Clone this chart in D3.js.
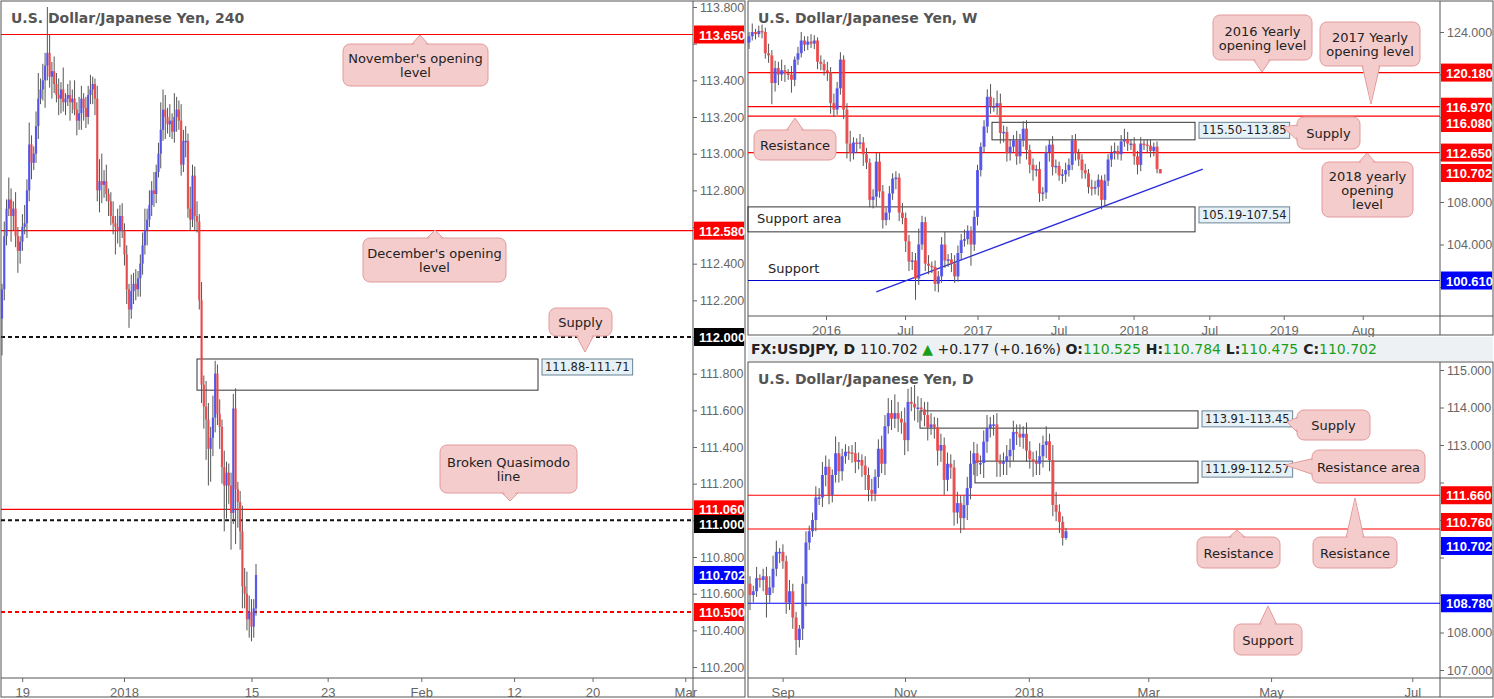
<!DOCTYPE html>
<html><head><meta charset="utf-8">
<script src="https://cdn.jsdelivr.net/npm/d3@7"></script>
<style>
body{margin:0;background:#fff;}
text{font-family:"DejaVu Sans",sans-serif;}
</style></head>
<body><svg id="c" width="1494" height="699"></svg>
<script>
// ---- 4H data ----
const h4Close = [112.26,112.55,112.70,112.75,112.66,112.70,112.55,112.47,112.52,112.60,112.62,112.80,113.05,112.95,113.00,113.15,113.30,113.35,113.40,113.48,113.55,113.42,113.45,113.38,113.32,113.30,113.35,113.28,113.30,113.32,113.28,113.30,113.24,113.18,113.22,113.30,113.25,113.20,113.32,113.35,113.38,113.30,112.80,112.85,112.83,112.85,112.78,112.74,112.66,112.62,112.60,112.58,112.66,112.58,112.45,112.26,112.15,112.25,112.29,112.26,112.32,112.40,112.50,112.58,112.64,112.72,112.80,112.78,112.90,113.00,113.13,113.24,113.20,113.16,113.18,113.12,113.20,113.24,113.18,112.94,113.07,113.07,112.70,112.64,112.88,112.66,112.63,112.20,111.74,111.62,111.55,111.39,111.45,111.56,111.80,111.58,111.51,111.29,111.19,111.26,111.19,111.04,111.61,111.17,111.10,110.94,110.64,110.60,110.46,110.50,110.42,110.52,110.702];
const h4WickUp = [3,8,5,12,6,4,9,5,3,7,10,6,12,5,4,8,14,6,9,7,25,10,5,8,6,9,4,12,3,6,8,5,10,4,9,7,3,6,5,8,4,3,7,12,15,6,9,3,5,8,4,10,6,7,4,5,3,9,6,8,4,5,7,12,6,8,5,10,4,6,15,11,8,5,9,4,13,7,5,9,6,8,4,12,6,5,8,4,10,5,14,9,6,12,7,5,8,4,9,6,5,7,8,11,4,6,14,10,12,9,7,5,6];
const h4WickDn = [20,6,5,4,14,8,6,12,7,5,4,8,6,9,4,5,7,3,6,15,8,6,12,5,4,9,8,5,7,4,10,6,3,8,5,9,7,6,4,5,8,9,6,12,10,7,4,8,5,6,15,7,9,4,6,8,10,5,7,6,4,10,6,5,8,4,6,7,5,3,8,6,12,5,7,4,6,8,5,6,4,9,5,6,4,8,6,5,10,12,22,20,18,10,8,6,12,9,25,18,10,20,6,30,14,10,12,8,6,10,8,6,4];
const h4Ticks = [[8.9,"19"],[53.8,"2018"],[110,"15"],[143.6,"23"],[184.9,"Feb"],[225.8,"12"],[260.4,"20"],[301.3,"Mar"]];

// ---- weekly data ----
const wkClose = [123.6,124.0,123.8,124.1,124.0,122.0,121.8,119.2,120.6,120.0,120.4,120.1,120.0,119.5,121.4,122.0,123.2,122.8,123.1,122.9,123.2,121.2,121.0,120.4,120.2,117.3,116.7,118.7,121.4,116.7,113.5,112.6,113.6,113.5,113.6,112.5,111.7,108.2,108.5,111.8,109.0,106.3,107.0,108.8,110.2,110.3,107.0,106.5,104.3,102.4,102.5,100.8,104.0,106.1,102.2,102.0,101.9,100.3,101.0,104.0,102.5,102.6,102.2,101.0,103.2,104.4,104.5,105.3,104.0,106.6,111.0,113.2,115.1,117.9,117.0,117.0,117.3,114.5,114.6,112.6,113.2,113.8,112.3,113.8,114.9,112.9,111.5,111.0,111.1,108.8,108.9,112.7,113.4,111.3,111.4,110.5,110.6,111.0,111.5,113.8,112.6,112.0,111.0,110.7,109.4,109.3,109.4,110.1,108.2,110.0,112.0,112.6,112.8,112.5,113.7,113.9,113.5,113.5,112.3,111.5,113.5,113.4,113.3,112.8,113.2,111.1,110.7];
const wkWickUp = [0.4,0.8,0.3,0.5,0.6,0.4,0.9,0.5,0.7,0.6,1.0,0.5,0.4,0.8,0.3,0.6,0.8,0.4,0.5,0.7,0.5,0.3,0.6,0.4,0.8,0.5,0.9,0.6,0.7,0.4,0.6,1.2,0.5,0.4,0.8,0.5,0.6,0.4,0.7,0.8,0.9,0.6,0.5,0.7,0.5,0.6,0.4,0.9,0.5,0.6,0.8,0.7,1.5,0.6,0.5,0.8,0.4,0.6,0.5,0.7,1.2,0.5,0.6,0.8,0.7,0.6,0.9,0.5,0.4,0.6,0.5,0.4,0.6,0.7,1.2,0.8,1.2,0.9,0.6,0.5,0.7,0.5,0.9,0.6,0.7,0.8,0.5,0.6,0.4,0.7,0.5,0.6,0.5,0.8,0.6,0.4,0.5,0.7,0.6,0.5,0.6,0.4,0.5,0.6,0.4,0.7,0.6,0.5,0.4,0.6,0.5,0.7,0.8,0.5,0.6,1.0,0.7,0.4,0.6,0.5,0.6,0.4,0.5,0.6,0.4,0.5];
const wkWickDn = [0.6,0.4,0.5,0.3,0.6,0.5,0.7,2.0,0.8,1.0,0.6,0.8,0.5,1.2,0.6,0.5,0.4,0.6,0.5,0.4,0.5,0.7,0.6,0.5,0.8,1.0,0.7,0.5,0.6,0.9,1.4,0.8,0.6,0.9,0.5,1.1,0.6,0.7,0.8,0.9,0.6,0.8,0.5,0.7,0.6,1.0,0.8,0.6,1.0,0.9,0.8,2.0,0.6,0.5,0.7,0.8,0.6,0.7,0.8,0.6,0.7,0.6,0.8,0.6,0.5,0.7,0.6,0.5,2.0,0.6,0.8,0.6,0.5,0.6,0.7,0.5,0.8,1.0,0.9,0.8,0.7,0.6,0.8,0.7,0.6,0.9,0.8,1.0,0.6,0.8,0.7,0.6,0.9,0.8,0.6,0.5,0.8,0.7,0.6,0.5,0.7,0.6,0.8,0.5,0.6,0.7,0.6,0.8,0.9,0.6,0.5,0.7,0.6,0.5,0.6,0.5,0.7,0.6,0.8,0.9,0.6,0.5,0.7,0.6,0.5,0.4];
const wkTicks = [[23.6,"2016"],[47.8,"Jul"],[70,"2017"],[94.8,"Jul"],[117.8,"2018"],[141,"Jul"],[163.8,"2019"],[188,"Aug"]];

// ---- daily data ----
const dyClose = [109.0,109.1,109.45,109.4,109.5,109.0,109.2,109.7,110.15,110.15,109.9,108.8,109.1,108.4,107.8,108.1,109.3,110.4,110.7,111.0,111.6,111.6,112.2,112.42,111.67,112.2,112.78,112.3,112.7,112.82,112.8,112.78,112.55,112.6,112.45,112.2,111.8,111.7,112.15,112.9,112.5,113.5,113.85,113.7,113.85,113.7,113.6,113.13,114.15,114.1,114.0,114.0,113.95,113.8,113.47,113.55,113.47,112.85,113.0,112.07,112.5,112.4,111.2,111.45,111.05,111.4,111.85,112.5,112.78,112.52,112.52,113.09,113.45,113.55,113.55,112.55,112.5,112.55,112.7,112.87,113.35,113.3,113.2,113.3,112.85,112.62,112.55,112.5,112.7,113.0,113.1,112.6,111.4,111.22,110.95,110.52,110.70];
const dyWickUp = [0.2,0.15,0.3,0.1,0.2,0.25,0.3,0.35,0.3,0.1,0.2,0.15,0.3,0.2,0.15,0.1,0.2,0.3,0.15,0.2,0.3,0.25,0.35,0.3,0.2,0.15,0.45,0.3,0.2,0.2,0.15,0.2,0.3,0.2,0.15,0.25,0.2,0.3,0.2,0.25,0.35,0.3,0.4,0.35,0.5,0.3,0.2,0.4,0.35,0.4,0.5,0.3,0.25,0.2,0.35,0.3,0.2,0.25,0.3,0.2,0.3,0.25,0.2,0.3,0.2,0.25,0.3,0.35,0.3,0.25,0.2,0.3,0.35,0.2,0.25,0.3,0.2,0.25,0.3,0.3,0.3,0.2,0.25,0.2,0.3,0.25,0.2,0.3,0.35,0.25,0.4,0.2,0.4,0.35,0.2,0.15,0.08];
const dyWickDn = [0.4,0.2,0.15,0.2,0.3,0.6,0.2,0.15,0.2,0.3,0.2,0.3,0.2,0.3,0.4,0.2,0.3,0.6,0.2,0.15,0.3,0.2,0.25,0.3,0.25,0.2,0.2,0.3,0.25,0.2,0.2,0.25,0.3,0.2,0.3,0.4,0.3,0.2,0.2,0.3,0.25,0.3,0.2,0.3,0.25,0.35,0.3,0.4,0.3,0.2,0.35,0.4,0.3,0.3,0.35,0.2,0.3,0.4,0.3,0.4,0.3,0.3,0.35,0.3,0.4,0.3,0.4,0.3,0.3,0.35,0.3,0.4,0.3,0.25,0.3,0.4,0.35,0.3,0.35,0.3,0.3,0.3,0.25,0.3,0.3,0.25,0.4,0.3,0.3,0.3,0.35,0.3,0.3,0.25,0.3,0.2,0.05];
const dyTicks = [[9.9,"Sep"],[47.1,"Nov"],[84.7,"2018"],[121,"Mar"],[158.3,"May"],[201.2,"Jul"]];

const UP = "#5050f0", DN = "#f04848";
const SANS = "'Liberation Sans',Arial,sans-serif";
const svg = d3.select("#c");
svg.append("rect").attr("width",1494).attr("height",699).attr("fill","#fff");

function drawPanel(p){
  const g = svg.append("g");
  const y = d3.scaleLinear().domain(p.yDom).range(p.yRange);
  const x = d3.scaleLinear().domain(p.xDom).range(p.xRange);
  g.append("rect").attr("x",p.left).attr("y",p.top).attr("width",p.right-p.left).attr("height",p.bottom-p.top)
    .attr("fill","#fff").attr("stroke","#555");
  g.append("line").attr("x1",p.axisX).attr("x2",p.axisX).attr("y1",p.top).attr("y2",p.bottom).attr("stroke","#555");
  g.append("line").attr("x1",p.left).attr("x2",p.right).attr("y1",p.axisY).attr("y2",p.axisY).attr("stroke","#555");
  // tag positions, used to hide tick labels that sit under them
  const tagY = p.tags.map(t=> t.y!==undefined ? t.y : y(t.v));
  const yAxis = d3.axisRight(y).tickValues(p.yTicks).tickFormat(d3.format(".3f")).tickSize(4);
  const ya = g.append("g").attr("transform",`translate(${p.axisX},0)`).call(yAxis);
  ya.select(".domain").remove();
  ya.selectAll("text").attr("fill","#666").style("font-size","12.5px").style("font-family",SANS);
  ya.selectAll("line").attr("stroke","#666");
  ya.selectAll(".tick").filter(d=>tagY.some(t=>Math.abs(t-y(d))<16)).select("text").remove();
  const xAxis = d3.axisBottom(x).tickValues(p.xTicks.map(t=>t[0]))
    .tickFormat((d,i)=>p.xTicks[i][1]).tickSize(4);
  const xa = g.append("g").attr("transform",`translate(0,${p.axisY})`).call(xAxis);
  xa.select(".domain").remove();
  xa.selectAll("text").attr("fill","#666").style("font-size","13px").style("font-family",SANS).attr("dy","0.9em");
  xa.selectAll("line").attr("stroke","#666");
  g.append("text").attr("x",p.left+10).attr("y",p.top+22).text(p.title)
    .attr("fill","#555").style("font-size","14px").style("font-weight","bold");
  const plot = g.append("g");
  (p.zones||[]).forEach(z=>{
    plot.append("rect").attr("x",z.x0).attr("width",z.x1-z.x0)
      .attr("y",y(z.hi)).attr("height",y(z.lo)-y(z.hi))
      .attr("fill","none").attr("stroke","#333").attr("stroke-width",1);
    if(z.label){
      const t = plot.append("text").attr("x",z.x1+7).attr("y",y(z.hi)+12).text(z.label)
        .style("font-size","11.5px").attr("fill","#222");
      const bb = t.node().getBBox();
      plot.insert("rect","text:last-child").attr("x",bb.x-3).attr("y",bb.y-1).attr("width",bb.width+6).attr("height",bb.height+2)
        .attr("fill","#e6f0f7").attr("stroke","#6a8394");
    }
  });
  p.levels.forEach(l=>{
    plot.append("line").attr("x1",p.left).attr("x2",p.axisX).attr("y1",y(l.v)).attr("y2",y(l.v))
      .attr("stroke",l.c).attr("stroke-width",l.dash?2:1.2).attr("stroke-dasharray",l.dash?"4,3":null);
  });
  if(p.trend){
    plot.append("line").attr("x1",x(p.trend[0][0])).attr("y1",y(p.trend[0][1]))
      .attr("x2",x(p.trend[1][0])).attr("y2",y(p.trend[1][1])).attr("stroke","#2a2ae0").attr("stroke-width",1.3);
  }
  const cl = p.close;
  const data = cl.map((c,i)=>{
    const o = i===0 ? p.open0 : cl[i-1];
    const hi = Math.max(o,c) + (p.wu[i]||0)*p.wScale;
    const lo = Math.min(o,c) - (p.wd[i]||0)*p.wScale;
    return {i,o,c,hi,lo};
  });
  const cg = plot.selectAll(".cd").data(data).enter().append("g");
  cg.append("line").attr("x1",d=>x(d.i)).attr("x2",d=>x(d.i)).attr("y1",d=>y(d.hi)).attr("y2",d=>y(d.lo))
    .attr("stroke","#555").attr("stroke-width",1);
  cg.append("rect").attr("x",d=>x(d.i)-p.bw/2).attr("width",p.bw)
    .attr("y",d=>y(Math.max(d.o,d.c))).attr("height",d=>Math.max(1.5,Math.abs(y(d.o)-y(d.c))))
    .attr("fill",d=>d.c>=d.o?UP:DN).attr("opacity",0.9);
  (p.texts||[]).forEach(t=>{
    plot.append("text").attr("x",t[0]).attr("y",t[1]).text(t[2]).style("font-size","13px").attr("fill","#222");
  });
  (p.callouts||[]).forEach(c=>callout(plot,c));
  p.tags.forEach((t,k)=>{
    const yy = tagY[k];
    g.append("rect").attr("x",p.axisX+1).attr("y",yy-9).attr("width",p.right-p.axisX-2).attr("height",18).attr("fill",t.c);
    g.append("text").attr("x",p.axisX+6).attr("y",yy+5).text(t.v.toFixed(3))
      .attr("fill","#fff").style("font-size","13px").style("font-weight","bold").style("font-family",SANS);
  });
  return {x,y};
}

function callout(g,c){
  const fill="#f4cccc", st="#e39a9a";
  let tri;
  const [x,y,w,h,px,py,dir] = c.box;
  if(dir==="up") tri=[[px-9,y+1],[px,py],[px+9,y+1]];
  else if(dir==="down") tri=[[px-9,y+h-1],[px,py],[px+9,y+h-1]];
  else tri=[[x+1,y+h/2-8],[px,py],[x+1,y+h/2+8]];
  g.append("polygon").attr("points",tri.map(q=>q.join(",")).join(" ")).attr("fill",fill).attr("stroke",st);
  g.append("rect").attr("x",x).attr("y",y).attr("width",w).attr("height",h).attr("rx",7)
    .attr("fill",fill).attr("stroke",st);
  let inner;
  if(dir==="up") inner=[[px-8,y+3],[px,py+1.5],[px+8,y+3]];
  else if(dir==="down") inner=[[px-8,y+h-3],[px,py-1.5],[px+8,y+h-3]];
  else inner=[[x+3,y+h/2-7],[px+1.5,py],[x+3,y+h/2+7]];
  g.append("polygon").attr("points",inner.map(q=>q.join(",")).join(" ")).attr("fill",fill);
  c.lines.forEach((l,i)=>{
    g.append("text").attr("x",x+w/2).attr("y",y+ (h-c.lines.length*14)/2 + 12 + i*14)
      .attr("text-anchor","middle").text(l).style("font-size","13px").attr("fill","#222");
  });
}

// left 4H
drawPanel({
  left:1,right:745,top:1,bottom:697,axisX:693,axisY:678,
  title:"U.S. Dollar/Japanese Yen, 240",
  yDom:[113.8,110.2],yRange:[7,667],
  yTicks:d3.range(0,19).map(i=>+(113.8-i*0.2).toFixed(1)),
  xDom:[0,112],xRange:[2,256],xTicks:h4Ticks,
  close:h4Close,open0:112.10,wu:h4WickUp,wd:h4WickDn,wScale:0.01,bw:2.2,
  levels:[{v:113.65,c:"#f00"},{v:112.58,c:"#f00"},{v:112.0,c:"#111",dash:true},{v:111.06,c:"#f00"},{v:111.0,c:"#111",dash:true},{v:110.5,c:"#f00",dash:true}],
  zones:[{x0:197,x1:538,hi:111.88,lo:111.71,label:"111.88-111.71"}],
  callouts:[
    {box:[343,44,145,42,420,35,"up"],lines:["November's opening","level"]},
    {box:[363,238,143,44,435,230,"up"],lines:["December's opening","level"]},
    {box:[549,308,63,28,585,352,"down"],lines:["Supply"]},
    {box:[440,445,137,48,510,501,"down"],lines:["Broken Quasimodo","line"]}
  ],
  tags:[{v:113.65,c:"#f00"},{v:112.58,c:"#f00"},{v:112.0,c:"#000"},{v:111.06,c:"#f00"},{v:111.0,c:"#000",y:524},{v:110.702,c:"#00f"},{v:110.5,c:"#f00"}]
});

// weekly
drawPanel({
  left:748,right:1493,top:1,bottom:335,axisX:1440,axisY:316,
  title:"U.S. Dollar/Japanese Yen, W",
  yDom:[124,108],yRange:[32,202],
  yTicks:[124,120,116,112,108,104,100],
  xDom:[0,121],xRange:[749,1144],xTicks:wkTicks,
  close:wkClose,open0:123.0,wu:wkWickUp,wd:wkWickDn,wScale:1,bw:3,
  levels:[{v:120.18,c:"#f00"},{v:116.97,c:"#f00"},{v:116.08,c:"#f00"},{v:112.65,c:"#f00"},{v:100.61,c:"#00c"}],
  zones:[{x0:992,x1:1195,hi:115.5,lo:113.85,label:"115.50-113.85"},{x0:748,x1:1195,hi:107.54,lo:105.19,label:"105.19-107.54"}],
  trend:[[39,99.55],[139,111.1]],
  texts:[[757,223,"Support area"],[768,273,"Support"]],
  callouts:[
    {box:[1213,15,99,45,1262,72,"down"],lines:["2016 Yearly","opening level"]},
    {box:[1320,22,100,44,1371,104,"down"],lines:["2017 Yearly","opening level"]},
    {box:[1297,117,63,32,1283,127,"left"],lines:["Supply"]},
    {box:[1322,162,91,55,1367,153,"up"],lines:["2018 yearly","opening","level"]},
    {box:[754,130,82,30,795,118,"up"],lines:["Resistance"]}
  ],
  tags:[{v:120.18,c:"#f00"},{v:116.97,c:"#f00"},{v:116.08,c:"#f00",y:123},{v:112.65,c:"#f00"},{v:110.702,c:"#f00",y:173},{v:100.61,c:"#00f"}]
});

// daily
drawPanel({
  left:748,right:1493,top:362,bottom:697,axisX:1440,axisY:678,
  title:"U.S. Dollar/Japanese Yen, D",
  yDom:[115,107],yRange:[370,670],
  yTicks:d3.range(107,116),
  xDom:[0,96],xRange:[750,1066],xTicks:dyTicks,
  close:dyClose,open0:109.3,wu:dyWickUp,wd:dyWickDn,wScale:1,bw:3,
  levels:[{v:111.66,c:"#f00"},{v:110.76,c:"#f00"},{v:108.78,c:"#00f"}],
  zones:[{x0:920,x1:1198,hi:113.91,lo:113.45,label:"113.91-113.45"},{x0:975,x1:1198,hi:112.57,lo:111.99,label:"111.99-112.57"}],
  callouts:[
    {box:[1297,410,73,30,1287,422,"left"],lines:["Supply"]},
    {box:[1312,450,113,33,1285,465,"left"],lines:["Resistance area"]},
    {box:[1197,537,83,31,1237,530,"up"],lines:["Resistance"]},
    {box:[1313,537,84,31,1355,498,"up"],lines:["Resistance"]},
    {box:[1234,624,68,31,1268,606,"up"],lines:["Support"]}
  ],
  tags:[{v:111.66,c:"#f00"},{v:110.76,c:"#f00",y:522},{v:110.702,c:"#00f",y:546},{v:108.78,c:"#00f"}]
});

// header strip
const hd = svg.append("g");
hd.append("rect").attr("x",748).attr("y",337).attr("width",745).attr("height",24).attr("fill","#eef1f4");
const ht = hd.append("text").attr("x",751).attr("y",354).style("font-size","14px").attr("fill","#222");
ht.append("tspan").text("FX:USDJPY, D ").style("font-weight","bold");
ht.append("tspan").text(" 110.702 ");
ht.append("tspan").text("▲").attr("fill","#1a9e1a");
ht.append("tspan").text(" +0.177 (+0.16%) ");
[["O:","110.525"],["H:","110.784"],["L:","110.475"],["C:","110.702"]].forEach(d=>{
  ht.append("tspan").text(" "+d[0]).style("font-weight","bold");
  ht.append("tspan").text(d[1]).attr("fill","#1a9e1a");
});
</script></body></html>
